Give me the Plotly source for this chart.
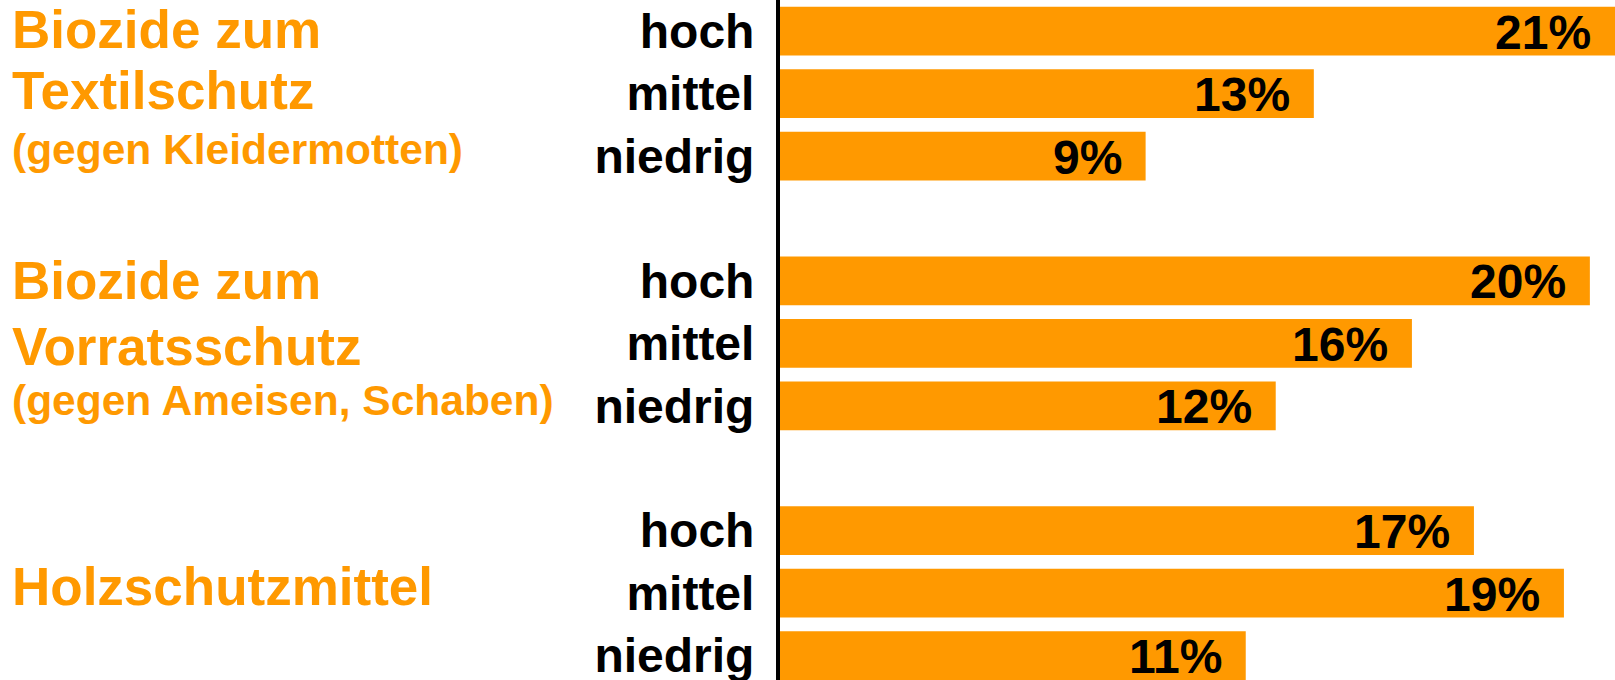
import plotly.graph_objects as go

# ---- data ----
levels = ["hoch", "mittel", "niedrig"]
group_lines = [
    ["Biozide zum", "Textilschutz", "(gegen Kleidermotten)"],
    ["Biozide zum", "Vorratsschutz", "(gegen Ameisen, Schaben)"],
    ["", "Holzschutzmittel", ""],
]
textil_values = [20.6, 13.17, 9.02]
vorrat_values = [19.98, 15.59, 12.23]
holz_values = [17.12, 19.34, 11.49]
textil_labels = ["21%", "13%", "9%"]
vorrat_labels = ["20%", "16%", "12%"]
holz_labels = ["17%", "19%", "11%"]

group_values = [textil_values, vorrat_values, holz_values]
group_labels = [textil_labels, vorrat_labels, holz_labels]

# vertical fine-tuning of the title lines (pixels, style only)
title_shifts = [[2, 3, 7], [0, -3, 5], [0, 7, 0]]

ORANGE = "#FF9900"
FONT = "Arial, 'Liberation Sans', sans-serif"

ys, xs, texts, ticktext = [], [], [], []
for g, (vals, labs) in enumerate(zip(group_values, group_labels)):
    for r, (v, lab) in enumerate(zip(vals, labs)):
        ys.append(g * 4 + r)
        xs.append(v)
        texts.append(lab)
        ticktext.append(levels[r])

fig = go.Figure(
    go.Bar(
        x=xs, y=ys, orientation="h",
        marker=dict(color=ORANGE, line=dict(width=0)),
        hoverinfo="skip",
    )
)

annotations = []
# value labels inside bar ends
for x, y, t in zip(xs, ys, texts):
    annotations.append(dict(
        x=x, y=y, xref="x", yref="y", text=t, showarrow=False,
        xanchor="right", yanchor="middle", xshift=-22, yshift=-1,
        font=dict(family=FONT, size=48, color="black", weight="bold"),
    ))

# group titles on the left
for g, lines in enumerate(group_lines):
    for r, line in enumerate(lines):
        if not line:
            continue
        sub = line.startswith("(")
        annotations.append(dict(
            x=-770 / 835, y=g * 4 + r, xref="paper", yref="y", text=line,
            showarrow=False, xanchor="left", yanchor="middle",
            yshift=title_shifts[g][r],
            font=dict(family=FONT, size=42.5 if sub else 53, color=ORANGE,
                      weight="bold"),
        ))

fig.update_layout(
    width=1615, height=680,
    margin=dict(l=780, r=0, t=0, b=0, pad=0, autoexpand=False),
    paper_bgcolor="white", plot_bgcolor="white",
    bargap=0.22, showlegend=False,
    annotations=annotations,
    xaxis=dict(range=[0, 20.6], showgrid=False, zeroline=False,
               showticklabels=False, showline=False, fixedrange=True,
               automargin=False),
    yaxis=dict(range=[10.392, -0.5], tickmode="array", tickvals=ys,
               ticktext=ticktext, showgrid=False, zeroline=False,
               showline=True, linecolor="black", linewidth=4, ticks="",
               ticklabelstandoff=12, automargin=False,
               ticklabeloverflow="allow",
               tickfont=dict(family=FONT, size=48, color="black",
                             weight="bold"), fixedrange=True),
)

fig.write_html(
    "out.html",
    config={"displayModeBar": False},
    post_script="document.body.style.margin='0';document.body.style.overflow='hidden';",
)
